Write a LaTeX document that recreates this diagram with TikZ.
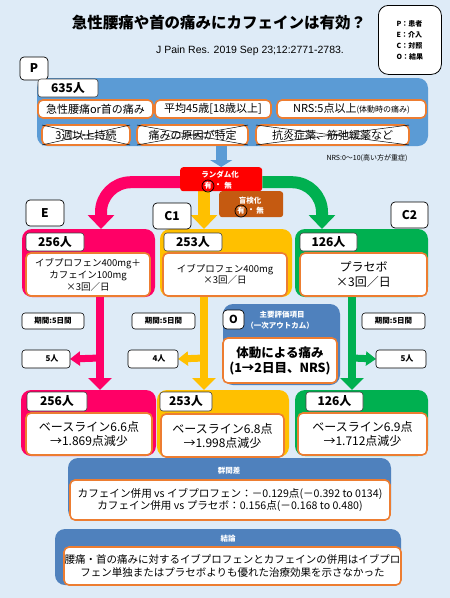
\documentclass[tikz,border=0pt]{standalone}
\usepackage{fontspec}
\setmainfont{Noto Sans CJK JP}
\newfontfamily\lib{Liberation Sans}
\usetikzlibrary{arrows.meta}
\pgfdeclarelayer{back}
\pgfsetlayers{back,main}
\definecolor{bgc}{HTML}{DEEBF7}
\definecolor{pblue}{HTML}{5B9BD5}
\definecolor{oblue}{HTML}{4F81BD}
\definecolor{pinkc}{HTML}{FF0066}
\definecolor{yellowc}{HTML}{FFC000}
\definecolor{greenc}{HTML}{00B050}
\definecolor{orangeb}{HTML}{ED7D31}
\definecolor{redc}{HTML}{FF0000}
\definecolor{brownc}{HTML}{C55A11}
\begin{document}
\begin{tikzpicture}[x=1pt,y=-1pt,
  panel/.style={rounded corners=10, inner sep=0, outer sep=0, anchor=north west},
  wb/.style={draw=orangeb, line width=1.6, fill=white, rounded corners=5, inner sep=0, outer sep=0, anchor=north west, align=center},
  tabb/.style={draw=black!75, line width=0.6, fill=white, rounded corners=3, inner sep=0, outer sep=0, anchor=north west, font=\bfseries\fontsize{12}{12}\selectfont},
  lbl/.style={draw=black, line width=0.7, fill=white, rounded corners=4, inner sep=0, outer sep=0, anchor=north west, font=\bfseries\fontsize{12}{12}\selectfont},
  sm/.style={draw=black, line width=0.6, fill=white, rounded corners=3, inner sep=0, outer sep=0, anchor=north west, font=\bfseries\fontsize{7.5}{8}\selectfont},
  wtxt/.style={text=white, font=\bfseries\fontsize{7.5}{8}\selectfont, inner sep=0},
  bigarrow/.style={line width=12, -{Triangle[width=26pt,length=14pt]}},
  midarrow/.style={line width=8, -{Triangle[width=23pt,length=12pt]}},
  sidearrow/.style={line width=7, -{Triangle[width=14pt,length=10pt]}},
  cross/.style={line width=0.5, black}
]
\useasboundingbox (0,0) rectangle (450,598);

% title
\node[font=\bfseries\fontsize{15.5}{16}\selectfont, inner sep=0] (title) at (219,23) {急性腰痛や首の痛みにカフェインは有効？};
\node[font=\lib\fontsize{10.5}{10.5}\selectfont, inner sep=0] (cite) at (250,51) {J Pain Res. 2019 Sep 23;12:2771-2783.};

% legend
\node[draw=black, line width=0.8, fill=white, rounded corners=10, minimum width=63, minimum height=69, anchor=north west] (leg) at (378,5) {};
\node[font=\bfseries\fontsize{7}{11}\selectfont, align=left, inner sep=0] (legt) at (leg.center) {P：患者\\E：介入\\C：対照\\O：結果};

% P
\node[panel, fill=pblue, minimum width=391, minimum height=68] (Ppanel) at (37,78) {};
\node[lbl, minimum width=28, minimum height=23] (Plbl) at (20,57) {P};
\node[tabb, minimum width=60, minimum height=18] (Pn) at (38,79) {635人};
\node[wb, minimum width=115, minimum height=18, font=\fontsize{11}{11}\selectfont] (r1a) at (38,100) {急性腰痛or首の痛み};
\node[wb, minimum width=116, minimum height=18, font=\fontsize{11}{11}\selectfont] (r1b) at (155,100) {平均45歳[18歳以上]};
\node[wb, minimum width=149, minimum height=18, font=\fontsize{11}{11}\selectfont] (r1c) at (277,100) {NRS:5点以上{\fontsize{8}{8}\selectfont(体動時の痛み)}};
\node[wb, minimum width=88, minimum height=20, font=\fontsize{11}{11}\selectfont] (r2a) at (42,125) {3週以上持続};
\node[wb, minimum width=111, minimum height=20, font=\fontsize{11}{11}\selectfont] (r2b) at (137,125) {痛みの原因が特定};
\node[wb, minimum width=153, minimum height=20, font=\fontsize{11}{11}\selectfont] (r2c) at (256,125) {抗炎症薬、筋弛緩薬など};
\foreach \b in {r2a,r2b,r2c}{
  \draw[cross] (\b.north west) -- (\b.south east) (\b.south west) -- (\b.north east);
}
\node[font=\fontsize{7}{7}\selectfont, inner sep=0] (nrs) at (367,158) {NRS:0〜10(高い方が重症)};

% randomisation & blinding
\node[fill=redc, rounded corners=3, minimum width=82, minimum height=24, anchor=north west, inner sep=0] (rand) at (180,167) {};
\node[wtxt] (randt) at (220,175) {ランダム化};
\node[wtxt] (ry1) at (208,186) {有};
\node[wtxt] (rdot1) at (218,186) {・};
\node[wtxt] (rn1) at (228,186) {無};
\draw[black, line width=0.7] (ry1.center) circle[radius=6];
\node[fill=brownc, rounded corners=3, minimum width=64, minimum height=26, anchor=north west, inner sep=0] (blind) at (219,191) {};
\node[wtxt] (blindt) at (250,201) {盲検化};
\node[wtxt] (ry2) at (241,211) {有};
\node[wtxt] (rdot2) at (251,211) {・};
\node[wtxt] (rn2) at (260,211) {無};
\draw[black, line width=0.7] (ry2.center) circle[radius=6];

% top group panels
\node[panel, fill=pinkc, minimum width=133, minimum height=68] (Etop) at (22,229) {};
\node[panel, fill=yellowc, minimum width=132, minimum height=68] (C1top) at (160,229) {};
\node[panel, fill=greenc, minimum width=133, minimum height=68] (C2top) at (295,229) {};
\node[lbl, minimum width=38, minimum height=26] (Elbl) at (26,200) {E};
\node[lbl, minimum width=38, minimum height=26] (C1lbl) at (153,203) {C1};
\node[lbl, minimum width=37, minimum height=26] (C2lbl) at (391,202) {C2};
\node[tabb, minimum width=58, minimum height=18] (En) at (26,233) {256人};
\node[tabb, minimum width=58, minimum height=18] (C1n) at (164,233) {253人};
\node[tabb, minimum width=57, minimum height=18] (C2n) at (300,233) {126人};
\node[wb, minimum width=124, minimum height=43, font=\fontsize{9.5}{12}\selectfont] (Etr) at (26,253) {イブプロフェン400mg＋\\カフェイン100mg\\×3回／日};
\node[wb, minimum width=124, minimum height=43, font=\fontsize{9.5}{11.5}\selectfont] (C1tr) at (163,253) {イブプロフェン400mg\\×3回／日};
\node[wb, minimum width=127, minimum height=43, font=\fontsize{12}{15}\selectfont] (C2tr) at (300,253) {プラセボ\\×3回／日};

% middle
\node[sm, minimum width=62, minimum height=16] (Eper) at (22,313) {期間:5日間};
\node[sm, minimum width=63, minimum height=16] (C1per) at (132,313) {期間:5日間};
\node[sm, minimum width=63, minimum height=16] (C2per) at (362,313) {期間:5日間};
\node[sm, minimum width=48, minimum height=18, font=\bfseries\fontsize{8}{8}\selectfont] (Edrop) at (22,350) {\hspace{12pt}5人};
\node[sm, minimum width=50, minimum height=18, font=\bfseries\fontsize{8}{8}\selectfont] (C1drop) at (128,350) {\hspace{12pt}4人};
\node[sm, minimum width=50, minimum height=18, font=\bfseries\fontsize{8}{8}\selectfont] (C2drop) at (376,350) {\hspace{12pt}5人};

% O
\node[panel, fill=oblue, minimum width=117, minimum height=81] (Opanel) at (223,304) {};
\node[lbl, minimum width=21, minimum height=19, font=\bfseries\fontsize{11}{11}\selectfont] (Olbl) at (223,310) {O};
\node[wtxt] (Ot1) at (282,315) {主要評価項目};
\node[wtxt] (Ot2) at (280,326) {（一次アウトカム）};
\node[wb, minimum width=114, minimum height=45, font=\bfseries\fontsize{12.5}{15}\selectfont] (Obox) at (223,338) {体動による痛み\\(1→2日目、NRS)};

% bottom group panels
\node[panel, fill=pinkc, minimum width=135, minimum height=66] (Ebot) at (21,390) {};
\node[panel, fill=yellowc, minimum width=132, minimum height=67] (C1bot) at (157,390) {};
\node[panel, fill=greenc, minimum width=133, minimum height=66] (C2bot) at (295,390) {};
\node[tabb, minimum width=60, minimum height=19] (Ebn) at (27,392) {256人};
\node[tabb, minimum width=52, minimum height=19] (C1bn) at (160,392) {253人};
\node[tabb, minimum width=57, minimum height=19] (C2bn) at (306,392) {126人};
\node[wb, minimum width=126, minimum height=42, font=\fontsize{12}{14}\selectfont] (Eres) at (26,413) {ベースライン6.6点\\→1.869点減少};
\node[wb, minimum width=123, minimum height=43, font=\fontsize{12}{14}\selectfont] (C1res) at (161,414) {ベースライン6.8点\\→1.998点減少};
\node[wb, minimum width=129, minimum height=42, font=\fontsize{12}{14}\selectfont] (C2res) at (298,413) {ベースライン6.9点\\→1.712点減少};

% group difference
\node[panel, fill=oblue, minimum width=323, minimum height=62] (Dpanel) at (68,458) {};
\node[wtxt] (Dt) at (229,471) {群間差};
\node[wb, minimum width=320, minimum height=40, font=\fontsize{10.6}{11.5}\selectfont] (Dbox) at (70,480) {カフェイン併用 vs イブプロフェン：－0.129点(－0.392 to 0134)\\カフェイン併用 vs プラセボ：0.156点(－0.168 to 0.480)};

% conclusion
\node[panel, fill=oblue, minimum width=346, minimum height=56] (Cpanel) at (55,529) {};
\node[wtxt] (Ct) at (228,539) {結論};
\node[wb, minimum width=337, minimum height=38, font=\fontsize{10.5}{13}\selectfont] (Cbox) at (64,547) {腰痛・首の痛みに対するイブプロフェンとカフェインの併用はイブプロ\\フェン単独またはプラセボよりも優れた治療効果を示さなかった};

% connector x positions
\coordinate (xE) at (100,0);
\coordinate (xC1) at (204,0);
\coordinate (xC2) at (352,0);
\coordinate (ySide) at (0,358);

\begin{pgfonlayer}{back}
\fill[bgc] (0,0) rectangle (450,598);
\draw[line width=11, pblue, -{Triangle[width=22pt,length=7pt]}] (rand.north |- Ppanel.south) -- (rand.north);
\draw[bigarrow, pinkc, rounded corners=30] ([yshift=-3]rand.west) -| ([xshift=12.5]Etop.north);
\draw[bigarrow, greenc, rounded corners=30] ([yshift=-3]rand.east) -| ([xshift=-39.5]C2top.north);
\draw[bigarrow, yellowc] (rand.south -| xC1) -- (C1top.north -| xC1);
\draw[midarrow, pinkc] (Etop.south -| xE) -- (Ebot.north -| xE);
\draw[midarrow, yellowc] (C1top.south -| xC1) -- (C1bot.north -| xC1);
\draw[midarrow, greenc] (C2top.south -| xC2) -- (C2bot.north -| xC2);
\draw[sidearrow, pinkc] (xE |- ySide) -- (Edrop.east);
\draw[sidearrow, yellowc] (xC1 |- ySide) -- (C1drop.east);
\draw[sidearrow, greenc] (xC2 |- ySide) -- (C2drop.west);
\end{pgfonlayer}
\end{tikzpicture}
\end{document}
